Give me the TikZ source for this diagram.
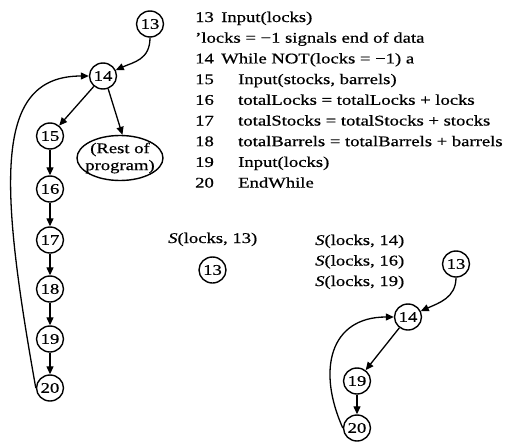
\documentclass[tikz,border=0pt]{standalone}
\usepackage{fontspec}
\setmainfont[FakeStretch=1.26,FakeBold=0.6]{Liberation Serif}
\usetikzlibrary{arrows.meta,shapes.geometric}
\begin{document}
\begin{tikzpicture}[x=1pt,y=-1pt,
  txt/.style={font=\fontsize{14.8}{17}\selectfont},
  nd/.style={ellipse,draw,line width=1.4pt,minimum width=27pt,minimum height=26pt,inner sep=0pt,txt},
  ar/.style={line width=1.3pt,-{Triangle[length=8pt,width=7pt]}},
  code/.style={anchor=base west,inner sep=0pt,txt},
  lab/.style={anchor=base west,inner sep=0pt,txt}]
\useasboundingbox (0,0) rectangle (507,442);
% left graph
\node[nd] (a13) at (150,24) {13};
\node[nd] (a14) at (103,76) {14};
\node[nd] (a15) at (50,136) {15};
\node[ellipse,draw,line width=1.4pt,minimum width=86pt,minimum height=45pt,inner xsep=-8pt,inner ysep=-3pt,align=center,txt] (rest) at (120,158) {(Rest of\\program)};
\node[nd] (a16) at (50,189) {16};
\node[nd] (a17) at (50,240) {17};
\node[nd] (a18) at (50,289) {18};
\node[nd] (a19) at (50,339) {19};
\node[nd] (a20) at (50,388) {20};
\draw[ar] (a13.south) .. controls +(0,22) and +(18,-8) .. (a14.25);
\draw[ar] (a14) -- (a15);
\draw[ar] (a14.-68) -- (rest.84);
\draw[ar] (a15) -- (a16);
\draw[ar] (a16) -- (a17);
\draw[ar] (a17) -- (a18);
\draw[ar] (a18) -- (a19);
\draw[ar] (a19) -- (a20);
\draw[ar] (a20.west) .. controls +(-37,-207) and +(-95,0) .. (a14.west);
% code
\node[code] (n13) at (195,22) {13};
\node[code] (t13) at (221,22) {Input(locks)};
\node[code] (c13) at (195,42.7) {'locks = −1 signals end of data};
\node[code] (n14) at (195,63.4) {14};
\node[code] (t14) at (221,63.4) {While NOT(locks = −1) a};
\node[code] (n15) at (195,84.1) {15};
\node[code] (t15) at (238,84.1) {Input(stocks, barrels)};
\node[code] (n16) at (195,104.8) {16};
\node[code] (t16) at (238,104.8) {totalLocks = totalLocks + locks};
\node[code] (n17) at (195,125.5) {17};
\node[code] (t17) at (238,125.5) {totalStocks = totalStocks + stocks};
\node[code] (n18) at (195,146.2) {18};
\node[code] (t18) at (238,146.2) {totalBarrels = totalBarrels + barrels};
\node[code] (n19) at (195,166.9) {19};
\node[code] (t19) at (238,166.9) {Input(locks)};
\node[code] (n20) at (195,187.6) {20};
\node[code] (t20) at (238,187.6) {EndWhile};
% bottom slices
\node[lab] (s13) at (168,243) {\textit{S}(locks, 13)};
\node[nd] (c13n) at (212.5,270) {13};
\node[lab] (s14) at (315,245) {\textit{S}(locks, 14)};
\node[lab] (s16) at (315,265.5) {\textit{S}(locks, 16)};
\node[lab] (s19) at (315,286) {\textit{S}(locks, 19)};
\node[nd] (r13) at (456,264) {13};
\node[nd] (r14) at (408,317) {14};
\node[nd] (r19) at (357,381) {19};
\node[nd] (r20) at (357,428) {20};
\draw[ar] (r13.south) .. controls +(0,20) and +(18,-8) .. (r14.25);
\draw[ar] (r14) -- (r19);
\draw[ar] (r19) -- (r20);
\draw[ar] (r20.west) .. controls +(-26,-58) and +(-64,0) .. (r14.west);
\end{tikzpicture}
\end{document}
